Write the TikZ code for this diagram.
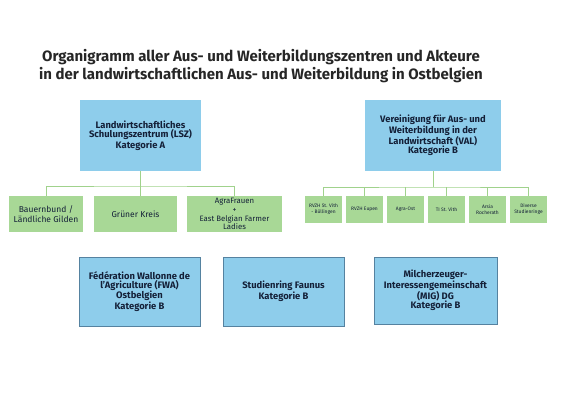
\documentclass[tikz,border=0pt]{standalone}
\usepackage{fontspec}
\setmainfont{Fira Sans}
\usepackage{tikz}
\usetikzlibrary{shapes, positioning}
\definecolor{boxblue}{RGB}{142,205,235}
\definecolor{boxgreen}{RGB}{168,216,150}
\definecolor{linegreen}{RGB}{160,210,140}
\definecolor{rimblue}{RGB}{85,130,160}
\definecolor{inkblue}{RGB}{20,32,56}
\tikzstyle{line}=[draw, linegreen, line width=0.9pt]
\tikzstyle{head}=[rectangle, fill=boxblue, text=inkblue, align=center, inner sep=1pt, font=\bfseries\fontsize{9.4}{9.2}\selectfont]
\tikzstyle{unit}=[head, draw=rimblue, line width=0.4pt]
\tikzstyle{kid}=[rectangle, fill=boxgreen, text=inkblue, align=center, inner sep=1pt, font=\fontsize{8.5}{9.8}\selectfont]
\tikzstyle{tiny}=[kid, minimum width=37pt, minimum height=27pt, font=\fontsize{4.9}{6.2}\selectfont]

\begin{document}
\begin{tikzpicture}[x=1pt, y=-1pt]
		\useasboundingbox (0,0) rectangle (566,400);
		\node[align=center, text=black!85, font=\bfseries\fontsize{15}{18}\selectfont] (T) at (261,66) {Organigramm aller Aus- und Weiterbildungszentren und Akteure\\in der landwirtschaftlichen Aus- und Weiterbildung in Ostbelgien};
		\node[head, minimum width=121pt, minimum height=71pt] (LSZ) at (140.5,135.5) {Landwirtschaftliches\\Schulungszentrum (LSZ)\\Kategorie A};
		\node[head, minimum width=136pt, minimum height=71pt] (VAL) at (433,135.5) {Vereinigung für Aus- und\\Weiterbildung in der\\Landwirtschaft (VAL)\\Kategorie B};
		\node[kid, minimum width=74pt, minimum height=36pt] (BB) at (46,214) {Bauernbund /\\Ländliche Gilden};
		\node[kid, minimum width=83pt, minimum height=36pt] (GK) at (135.5,214) {Grüner Kreis};
		\node[kid, minimum width=95pt, minimum height=36pt, font=\fontsize{7.8}{8.8}\selectfont] (AF) at (234.5,214) {AgraFrauen\\+\\East Belgian Farmer\\Ladies};
		\node[tiny] (R1) at (323.5,209.5) {RVZH St. Vith\\- Büllingen};
		\node[tiny, right of=R1, node distance=41pt] (R2) {RVZH Eupen};
		\node[tiny, right of=R2, node distance=41pt] (R3) {Agra-Ost};
		\node[tiny, right of=R3, node distance=41pt] (R4) {TI St. Vith};
		\node[tiny, right of=R4, node distance=41pt] (R5) {Arsia\\Rocherath};
		\node[tiny, right of=R5, node distance=41pt] (R6) {Diverse\\Studienringe};
		\node[unit, minimum width=121pt, minimum height=69pt] (FWA) at (139.5,291.5) {Fédération Wallonne de\\l’Agriculture (FWA)\\Ostbelgien\\Kategorie B};
		\node[unit, minimum width=121pt, minimum height=69pt] (SF) at (283.5,291.5) {Studienring Faunus\\Kategorie B};
		\node[unit, minimum width=123pt, minimum height=67pt] (MIG) at (435.5,290.5) {Milcherzeuger-\\Interessengemeinschaft\\(MIG) DG\\Kategorie B};
		\coordinate (lbus) at (140.5,186);
		\coordinate (rbus) at (433,187);
		\draw[line] (LSZ.south) -- (LSZ.south |- GK.north);
		\draw[line] (BB.north) |- (lbus) -| (AF.north);
		\draw[line] (VAL.south) -- (rbus);
		\draw[line] (R1.north) |- (rbus) -| (R6.north);
		\foreach \k in {R2,R3,R4,R5}
			\draw[line] (\k.north) -- (\k.north |- rbus);
	\end{tikzpicture}
\end{document}
